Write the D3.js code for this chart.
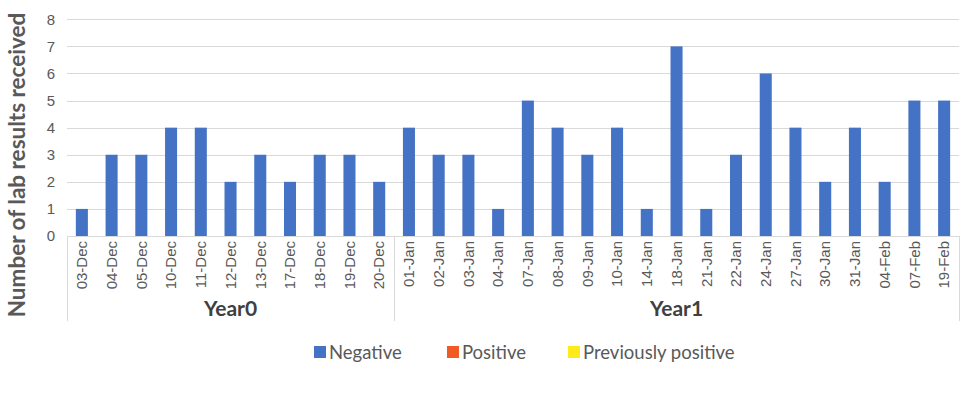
<!DOCTYPE html>
<html><head><meta charset="utf-8">
<script src="https://cdn.jsdelivr.net/npm/d3@7"></script>
<style>body{margin:0;background:#fff}svg{display:block}</style>
</head><body>
<svg id="c" width="980" height="395"></svg>
<script>
const groups = ["Year0", "Year1"];
const dates0 = ["03-Dec","04-Dec","05-Dec","10-Dec","11-Dec","12-Dec","13-Dec","17-Dec","18-Dec","19-Dec","20-Dec"];
const dates1 = ["01-Jan","02-Jan","03-Jan","04-Jan","07-Jan","08-Jan","09-Jan","10-Jan","14-Jan","18-Jan","21-Jan","22-Jan","24-Jan","27-Jan","30-Jan","31-Jan","04-Feb","07-Feb","19-Feb"];
const negative0 = [1,3,3,4,4,2,3,2,3,3,2];
const negative1 = [4,3,3,1,5,4,3,4,1,7,1,3,6,4,2,4,2,5,5];
const seriesNames = ["Negative","Positive","Previously positive"];
const seriesColors = ["#4472C4","#F15A24","#FFEB1A"];
const yTicks = [0,1,2,3,4,5,6,7,8];

const rows = [];
dates0.forEach((d,i)=>rows.push({g:groups[0], d, key:groups[0]+d, v:negative0[i]}));
dates1.forEach((d,i)=>rows.push({g:groups[1], d, key:groups[1]+d, v:negative1[i]}));

const svg = d3.select("#c");
const L = 67, R = 959, T = 19.3, B = 236;
const x = d3.scaleBand().domain(rows.map(r=>r.key)).range([L,R]).paddingInner(0.595).paddingOuter(0.2975);
const xs = d3.scaleBand().domain(rows.map(r=>r.key)).range([L,R]);
const y = d3.scaleLinear().domain([0,8]).range([B,T]);
const sans = "'Liberation Sans', Arial, sans-serif";

// gridlines
svg.append("g").selectAll("line").data(yTicks).join("line")
  .attr("x1",L).attr("x2",R).attr("y1",d=>Math.round(y(d))+0.5).attr("y2",d=>Math.round(y(d))+0.5)
  .attr("stroke","#D9D9D9").attr("stroke-width",1);

// y labels
svg.append("g").selectAll("text").data(yTicks).join("text")
  .attr("x",55).attr("y",d=>y(d)).attr("dy","0.35em").attr("text-anchor","end")
  .attr("font-family",sans).attr("font-size",15).attr("fill","#595959")
  .text(d=>d);

// bars
svg.append("g").selectAll("rect").data(rows).join("rect")
  .attr("x",d=>x(d.key)).attr("width",x.bandwidth())
  .attr("y",d=>y(d.v)).attr("height",d=>B-y(d.v))
  .attr("fill",seriesColors[0]);

// x axis line
svg.append("line").attr("x1",L).attr("x2",R).attr("y1",B+0.5).attr("y2",B+0.5).attr("stroke","#D9D9D9");

// date labels
svg.append("g").selectAll("text").data(rows).join("text")
  .attr("transform",d=>`translate(${xs(d.key)+xs.bandwidth()/2},241) rotate(-90)`)
  .attr("dy","0.35em").attr("text-anchor","end")
  .attr("font-family",sans).attr("font-size",15).attr("fill","#595959")
  .text(d=>d.d);

// group separators
const bounds = [L, xs(groups[1]+dates1[0]), R];
svg.append("g").selectAll("line").data(bounds).join("line")
  .attr("x1",d=>Math.round(d)+0.5).attr("x2",d=>Math.round(d)+0.5).attr("y1",B).attr("y2",321)
  .attr("stroke","#D9D9D9");

// group labels
const gInfo = [{g:groups[0],a:bounds[0],b:bounds[1]},{g:groups[1],a:bounds[1],b:bounds[2]}];
svg.append("g").selectAll("text").data(gInfo).join("text")
  .attr("x",d=>(d.a+d.b)/2).attr("y",316).attr("text-anchor","middle")
  .attr("font-family","Lato, sans-serif").attr("font-weight","bold").attr("font-size",21).attr("fill","#404040")
  .text(d=>d.g);

// y title
svg.append("text").attr("transform","translate(25,165) rotate(-90)").attr("text-anchor","middle")
  .attr("font-family","Lato, sans-serif").attr("font-weight","bold").attr("font-size",22.5).attr("fill","#595959")
  .text("Number of lab results received");

// legend
const legX = [314, 447, 568];
const lg = svg.append("g").selectAll("g").data(seriesNames).join("g")
  .attr("transform",(d,i)=>`translate(${legX[i]},346)`);
lg.append("rect").attr("width",12).attr("height",12).attr("fill",(d,i)=>seriesColors[i]);
lg.append("text").attr("x",15).attr("y",6).attr("dy","0.36em")
  .attr("font-family","Lato, sans-serif").attr("font-size",18.5).attr("fill","#595959").text(d=>d);
</script>
</body></html>
